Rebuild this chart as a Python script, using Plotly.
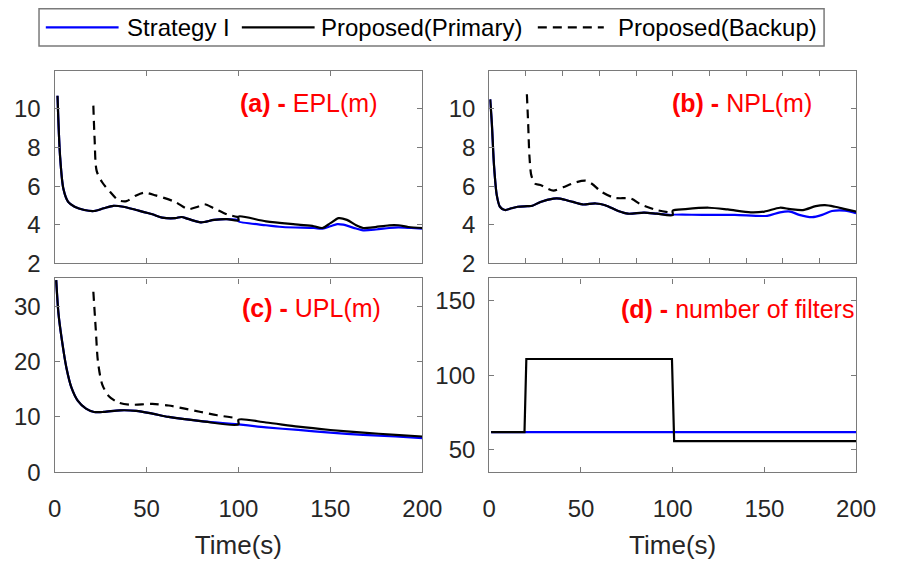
import plotly.graph_objects as go

# ---------------- data ----------------
series_names = ["Strategy I", "Proposed(Primary)", "Proposed(Backup)"]
series_colors = ["#0000ff", "#000000", "#000000"]
series_dash = ["solid", "solid", "9px,6px"]

# (a) EPL(m)
epl_t_pre = [1.6, 3, 4.8, 7.4, 10.9, 16.2, 21.5, 26.8, 32, 37.4, 44.4, 53.2, 58.5, 65.6, 69, 72.6, 79.6, 86.7, 93.7, 100]
epl_pre = [10.68, 7.55, 5.86, 5.18, 4.93, 4.76, 4.71, 4.85, 4.98, 4.93, 4.76, 4.54, 4.37, 4.34, 4.40, 4.30, 4.12, 4.25, 4.29, 4.22]
epl_t_primary = [100, 115, 132.5, 141, 145.7, 150, 154.5, 159, 164, 167.8, 173, 182, 187, 192.4, 200]
epl_primary = [4.42, 4.17, 4.0, 3.92, 3.83, 4.08, 4.34, 4.25, 3.97, 3.83, 3.86, 3.97, 3.97, 3.88, 3.83]
epl_t_s1 = [100, 115, 124, 141, 145.7, 150, 153.7, 157, 164, 167.8, 174.8, 182, 187, 194, 200]
epl_s1 = [4.17, 3.97, 3.88, 3.83, 3.80, 3.92, 4.03, 4.0, 3.80, 3.71, 3.75, 3.83, 3.86, 3.83, 3.80]
epl_t_backup = [21.1, 21.8, 22.9, 25.9, 30.3, 34.7, 39.1, 44.4, 48.8, 55, 65.6, 72.6, 77.9, 81.4, 86.7, 93.7, 100]
epl_backup = [10.17, 8.4, 6.79, 6.2, 5.69, 5.27, 5.22, 5.52, 5.66, 5.52, 5.18, 4.81, 4.93, 5.06, 4.85, 4.54, 4.39]

# (b) NPL(m)
npl_t_pre = [0.5, 1.4, 2.6, 4.1, 5.8, 8.5, 12, 15.5, 20.8, 23.5, 27.9, 35, 38.5, 45.5, 50.8, 58, 63.2, 70.3, 75.6, 84.4, 91.4, 100]
npl_pre = [10.5, 9.24, 7.04, 5.52, 4.93, 4.76, 4.85, 4.93, 4.96, 4.98, 5.18, 5.35, 5.35, 5.18, 5.05, 5.10, 5.01, 4.71, 4.57, 4.63, 4.57, 4.50]
npl_t_primary = [100, 107, 119.7, 130, 142.6, 150, 158.5, 164, 171, 178, 183, 188.5, 194, 200]
npl_primary = [4.73, 4.81, 4.88, 4.79, 4.64, 4.68, 4.88, 4.81, 4.76, 4.96, 5.01, 4.93, 4.81, 4.68]
npl_t_s1 = [100, 116, 133.8, 151.5, 158.5, 164, 169, 176, 181.5, 186.8, 194, 200]
npl_s1 = [4.51, 4.51, 4.51, 4.46, 4.64, 4.68, 4.51, 4.39, 4.51, 4.71, 4.73, 4.59]
npl_t_backup = [20.5, 21.2, 21.9, 23, 25.2, 27.9, 31.4, 35, 40.2, 47.3, 52.6, 56.1, 61.4, 68.5, 77.3, 82.6, 91.4, 98.5]
npl_backup = [10.76, 9.24, 7.55, 6.53, 6.11, 6.06, 5.89, 5.77, 5.94, 6.2, 6.28, 6.11, 5.69, 5.39, 5.35, 5.05, 4.76, 4.63]

# (c) UPL(m)
upl_t_pre = [0.9, 2.1, 3.9, 6.5, 9.2, 12.7, 17.1, 21.5, 26.8, 35.6, 44.4, 53.2, 62, 79.6, 100]
upl_pre = [34.7, 28.8, 24.1, 18.8, 15.3, 12.9, 11.5, 10.9, 10.9, 11.2, 11.1, 10.6, 10.0, 9.24, 8.65]
upl_t_primary = [100, 115, 132.5, 150, 167.8, 185.4, 200]
upl_primary = [9.5, 9.0, 8.24, 7.65, 7.18, 6.76, 6.47]
upl_t_s1 = [100, 115, 132.5, 150, 167.8, 185.4, 200]
upl_s1 = [8.65, 8.12, 7.65, 7.18, 6.76, 6.47, 6.18]
upl_t_backup = [21.1, 22.4, 23.6, 25.9, 29.4, 34.7, 40.9, 53.2, 62, 70.8, 79.6, 88.5, 99]
upl_backup = [32.6, 25.9, 20.0, 15.9, 13.8, 12.6, 12.2, 12.35, 12.06, 11.5, 10.9, 10.3, 9.8]

# (d) number of filters
nf_t_primary = [1, 19.2, 20.2, 99.6, 100.8, 200]
nf_primary = [62, 62, 111, 111, 56, 56]
nf_t_s1 = [1, 200]
nf_s1 = [62, 62]

panel_titles = ["<b>(a) -</b> EPL(m)", "<b>(b) -</b> NPL(m)", "<b>(c) -</b> UPL(m)",
                "<b>(d) -</b> number of filters"]
x_ticks = [0, 50, 100, 150, 200]
y_ticks_pl = [2, 4, 6, 8, 10]
y_ticks_upl = [0, 10, 20, 30]
y_ticks_nf = [50, 100, 150]

# ---------------- figure ----------------
W, H = 912, 564
FONT = "Liberation Sans, Arial, sans-serif"
fig = go.Figure()


def line(name_idx, x, y, axis, shape="spline"):
    fig.add_trace(go.Scatter(
        x=x, y=y, mode="lines", showlegend=False, name=series_names[name_idx],
        line=dict(color=series_colors[name_idx], width=2.2, dash=series_dash[name_idx],
                  shape=shape, smoothing=0.8 if shape == "spline" else None),
        xaxis="x" + axis, yaxis="y" + axis))


panels = [
    ("", epl_t_pre, epl_pre, epl_t_s1, epl_s1, epl_t_primary, epl_primary, epl_t_backup, epl_backup),
    ("2", npl_t_pre, npl_pre, npl_t_s1, npl_s1, npl_t_primary, npl_primary, npl_t_backup, npl_backup),
    ("3", upl_t_pre, upl_pre, upl_t_s1, upl_s1, upl_t_primary, upl_primary, upl_t_backup, upl_backup),
]
for ax, tp, vp, ts, vs, tq, vq, tb, vb in panels:
    line(0, tp + ts, vp + vs, ax)          # Strategy I (same as primary until 100 s)
    line(1, tp + tq, vp + vq, ax)          # Proposed primary
    line(2, tb, vb, ax)                    # Proposed backup

line(0, nf_t_s1, nf_s1, "4", shape="linear")
line(1, nf_t_primary, nf_primary, "4", shape="linear")

# ---------------- axes ----------------
frame = "#7a7a7a"
tickfont = dict(family=FONT, size=24, color="#262626")


def px_x(a, b):
    return [a / W, b / W]


def px_y(top, bottom):
    return [(H - bottom) / H, (H - top) / H]


common = dict(showline=True, linecolor=frame, linewidth=1.3, mirror="ticks", ticks="inside",
              ticklen=5, tickcolor=frame, showgrid=False, zeroline=False, tickfont=tickfont)

xdom_l, xdom_r = px_x(49, 428), px_x(497, 875)
ydom_t, ydom_b = px_y(73, 269.5), px_y(285, 483.5)

title_x = dict(text="Time(s)", font=dict(family=FONT, size=26, color="#262626"), standoff=14)

fig.update_layout(
    xaxis=dict(domain=xdom_l, range=[0, 200], tickvals=x_ticks, showticklabels=False, anchor="y", **common),
    yaxis=dict(domain=ydom_t, range=[2, 11.95], tickvals=y_ticks_pl, anchor="x", ticklabelstandoff=8, **common),
    xaxis2=dict(domain=xdom_r, range=[0, 200], dtick=20, tick0=0, showticklabels=False, anchor="y2", **common),
    yaxis2=dict(domain=ydom_t, range=[2, 11.95], tickvals=y_ticks_pl, anchor="x2", ticklabelstandoff=8, **common),
    xaxis3=dict(domain=xdom_l, range=[0, 200], tickvals=x_ticks, anchor="y3", title=title_x,
                ticklabelstandoff=15, **common),
    yaxis3=dict(domain=ydom_b, range=[0, 35], tickvals=y_ticks_upl, anchor="x3", ticklabelstandoff=8, **common),
    xaxis4=dict(domain=xdom_r, range=[0, 200], tickvals=x_ticks, anchor="y4", title=title_x,
                ticklabelstandoff=15, **common),
    yaxis4=dict(domain=ydom_b, range=[35, 165], tickvals=y_ticks_nf, anchor="x4", ticklabelstandoff=8, **common),
)

# ---------------- panel labels ----------------
label_pos = [("x", "y", 0.50, 0.835), ("x2", "y2", 0.492, 0.835),
             ("x3", "y3", 0.504, 0.85), ("x4", "y4", 0.354, 0.84)]
for (xr, yr, lx, ly), txt in zip(label_pos, panel_titles):
    fig.add_annotation(text=txt, xref=xr + " domain", yref=yr + " domain", x=lx, y=ly,
                       xanchor="left", yanchor="middle", showarrow=False,
                       font=dict(family=FONT, size=25, color="#ff0000"))

# ---------------- legend box (top) ----------------
leg_left, leg_right, leg_top, leg_bottom = 33, 842, 9, 47
leg_mid = (leg_top + leg_bottom) / 2
fig.add_shape(type="rect", xref="paper", yref="paper",
              x0=leg_left / W, x1=leg_right / W, y0=(H - leg_bottom) / H, y1=(H - leg_top) / H,
              line=dict(color="#7a7a7a", width=1.5), fillcolor="white", layer="above")
sample_spans = [(40, 115), (242, 317), (547, 615)]
text_starts = [122, 322, 628]
for i, name in enumerate(series_names):
    s0, s1 = sample_spans[i]
    fig.add_shape(type="line", xref="paper", yref="paper",
                  x0=s0 / W, x1=s1 / W, y0=(H - leg_mid) / H, y1=(H - leg_mid) / H,
                  line=dict(color=series_colors[i], width=2.2, dash=series_dash[i]))
    fig.add_annotation(text=name, xref="paper", yref="paper", x=text_starts[i] / W,
                       y=(H - leg_mid) / H, xanchor="left", yanchor="middle", showarrow=False,
                       font=dict(family=FONT, size=24, color="#000000"))

fig.update_layout(width=W, height=H, margin=dict(l=0, r=0, t=0, b=0),
                  paper_bgcolor="white", plot_bgcolor="white", showlegend=False)

fig.write_html("out.html")
